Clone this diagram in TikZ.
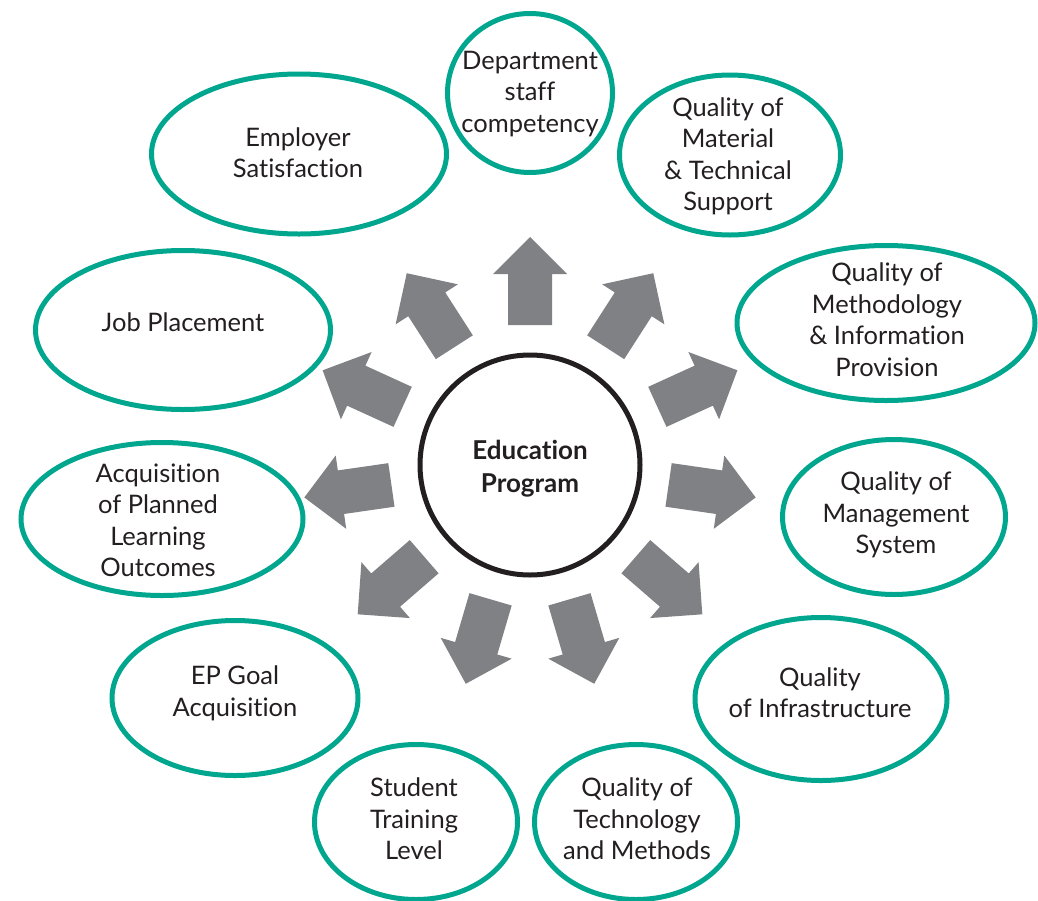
\documentclass[tikz,border=0pt]{standalone}
\usepackage{fontspec}
\setmainfont{Lato}[Ligatures=NoCommon]
\usetikzlibrary{shapes.geometric}
\definecolor{tealring}{RGB}{0,166,142}
\definecolor{arrowgray}{RGB}{128,129,133}
\definecolor{inkdark}{RGB}{35,31,32}
\tikzset{
  ring/.style={ellipse, draw=tealring, line width=5pt, fill=white, inner sep=0pt},
  label/.style={align=center, text=inkdark, font=\fontsize{25.5}{31.5}\selectfont, inner sep=0pt},
  hub/.style={circle, draw=inkdark, line width=5pt, minimum size=220pt, inner sep=0pt},
  blockarrow/.style={fill=arrowgray}
}
\begin{document}
\begin{tikzpicture}[x=1pt, y=-1pt]
\useasboundingbox (0,0) rectangle (1038,900);

% central hub
\node[hub] (edu) at (530,465) {};
\node[label, font=\fontsize{26}{33}\selectfont\bfseries] (edutext) at (530,469) {Education\\Program};

% radial block arrows, eleven at equal angles
\foreach \k in {0,...,10} {
  \pgfmathsetmacro{\ang}{90-\k*360/11}
  \begin{scope}[shift={(edu.center)}, x=1pt, y=1pt, rotate=\ang]
    \fill[blockarrow] (140,-22) -- (191,-22) -- (191,-37) -- (228,0)
      -- (191,37) -- (191,22) -- (140,22) -- cycle;
  \end{scope}
}

% outcome rings
\node[ring, minimum width=165pt, minimum height=159pt] (dept) at (530,93) {};
\node[ring, minimum width=295pt, minimum height=160pt] (empl) at (299,154) {};
\node[ring, minimum width=221pt, minimum height=160pt] (matr) at (730,155) {};
\node[ring, minimum width=298pt, minimum height=155pt] (meth) at (886,323) {};
\node[ring, minimum width=295pt, minimum height=159pt] (job) at (183,330) {};
\node[ring, minimum width=282pt, minimum height=153pt] (plo) at (162,519) {};
\node[ring, minimum width=223pt, minimum height=155pt] (mgmt) at (894,517) {};
\node[ring, minimum width=252pt, minimum height=163pt] (infra) at (821,699) {};
\node[ring, minimum width=246pt, minimum height=155pt] (goal) at (235,698) {};
\node[ring, minimum width=203pt, minimum height=155pt] (stud) at (416,822) {};
\node[ring, minimum width=203pt, minimum height=155pt] (tech) at (636,822) {};

% ring texts
\node[label] (tdept) at (530,94) {Department\\staff\\competency};
\node[label] (templ) at (298,152.5) {Employer\\Satisfaction};
\node[label] (tmatr) at (728,156.5) {Quality of\\Material\\\& Technical\\Support};
\node[label] (tmeth) at (887,319.5) {Quality of\\Methodology\\\& Information\\Provision};
\node[label] (tjob) at (183,322) {Job Placement};
\node[label] (tplo) at (158,520.5) {Acquisition\\of Planned\\Learning\\Outcomes};
\node[label] (tmgmt) at (896,515) {Quality of\\Management\\System};
\node[label] (tinfra) at (820,692.5) {Quality\\of Infrastructure};
\node[label] (tgoal) at (235,693.5) {EP Goal\\Acquisition};
\node[label] (tstud) at (414,819) {Student\\Training\\Level};
\node[label] (ttech) at (637,819) {Quality of\\Technology\\and Methods};
\end{tikzpicture}
\end{document}
